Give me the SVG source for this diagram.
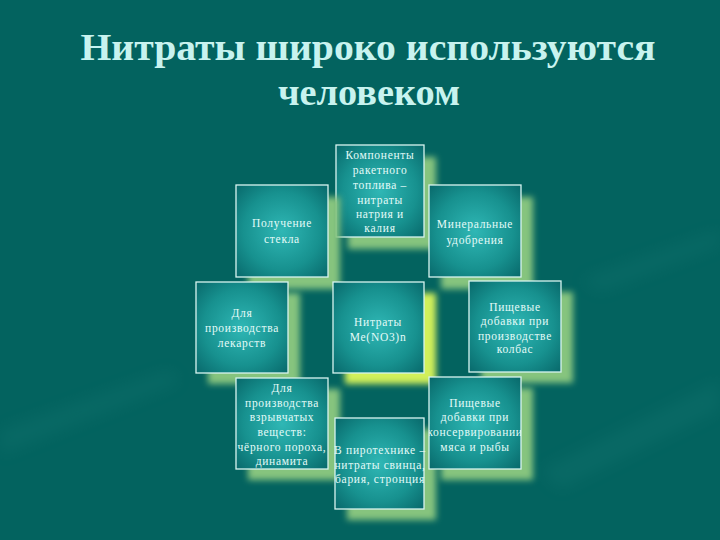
<svg xmlns="http://www.w3.org/2000/svg" width="720" height="540" viewBox="0 0 720 540">
<defs>
<style>
.title{font-family:"Liberation Serif","Times New Roman",serif;font-size:38px;font-weight:bold;fill:#c8f3ef;text-anchor:middle}
.lbl{font-family:"Liberation Serif","Times New Roman",serif;font-size:11.5px;fill:#e4fbf8;text-anchor:middle;letter-spacing:0.7px}
.box{fill:url(#boxg);stroke:#d8f4f0;stroke-width:1.3}
.sh{fill:#86c47e;filter:url(#blur)}
.shc{fill:#d2f05a;filter:url(#blur)}
</style>
<radialGradient id="boxg" cx="0.5" cy="0.5" r="0.7">
<stop offset="0" stop-color="#2fb7b5"/>
<stop offset="0.6" stop-color="#17918f"/>
<stop offset="1" stop-color="#08696b"/>
</radialGradient>
<filter id="blur" x="-20%" y="-20%" width="140%" height="140%"><feGaussianBlur stdDeviation="3"/></filter>
<filter id="bgblur" x="-20%" y="-20%" width="140%" height="140%"><feGaussianBlur stdDeviation="8"/></filter>
<clipPath id="clip9"><rect x="429" y="377" width="92" height="92"/></clipPath>
</defs>
<rect width="720" height="540" fill="#03635f"/>
<g opacity="0.15" filter="url(#bgblur)" fill="#2a8c86">
<path d="M540 470 L720 380 L720 410 L560 490 Z"/>
<path d="M580 280 L720 230 L720 245 L600 292 Z"/>
<path d="M0 430 L170 370 L180 382 L0 455 Z"/>
</g>
<g id="title">
<text class="title" x="368" y="60" textLength="575" lengthAdjust="spacingAndGlyphs">Нитраты широко используются</text>
<text class="title" x="369" y="105" textLength="182" lengthAdjust="spacingAndGlyphs">человеком</text>
</g>
<g id="connectors"></g>
<g id="n1">
<rect class="sh" x="348" y="157" width="88" height="92"/>
<rect class="box" x="336" y="145" width="88" height="92"/>
<text class="lbl"><tspan x="380" y="159">Компоненты</tspan><tspan x="380" y="174">ракетного</tspan><tspan x="380" y="189">топлива –</tspan><tspan x="380" y="204">нитраты</tspan><tspan x="380" y="218">натрия и</tspan><tspan x="380" y="232">калия</tspan></text>
</g>
<g id="n2">
<rect class="sh" x="248" y="197" width="92" height="92"/>
<rect class="box" x="236" y="185" width="92" height="92"/>
<text class="lbl"><tspan x="282" y="227">Получение</tspan><tspan x="282" y="243">стекла</tspan></text>
</g>
<g id="n3">
<rect class="sh" x="441" y="197" width="92" height="92"/>
<rect class="box" x="429" y="185" width="92" height="92"/>
<text class="lbl"><tspan x="475" y="228">Минеральные</tspan><tspan x="475" y="244">удобрения</tspan></text>
</g>
<g id="n4">
<rect class="sh" x="208" y="293" width="92" height="91"/>
<rect class="box" x="196" y="282" width="92" height="91"/>
<text class="lbl"><tspan x="242" y="317">Для</tspan><tspan x="242" y="332">производства</tspan><tspan x="242" y="347">лекарств</tspan></text>
</g>
<g id="n5">
<rect class="shc" x="345" y="293" width="91" height="91"/>
<rect class="box" x="333" y="282" width="91" height="91"/>
<text class="lbl"><tspan x="378" y="326">Нитраты</tspan><tspan x="378" y="341">Me(NO3)n</tspan></text>
</g>
<g id="n6">
<rect class="sh" x="481" y="292" width="92" height="91"/>
<rect class="box" x="469" y="281" width="92" height="91"/>
<text class="lbl"><tspan x="515" y="311">Пищевые</tspan><tspan x="515" y="325">добавки при</tspan><tspan x="515" y="340">производстве</tspan><tspan x="515" y="353">колбас</tspan></text>
</g>
<g id="n7">
<rect class="sh" x="248" y="389" width="92" height="91"/>
<rect class="box" x="236" y="378" width="92" height="91"/>
<text class="lbl"><tspan x="282" y="392">Для</tspan><tspan x="282" y="407">производства</tspan><tspan x="282" y="421">взрывчатых</tspan><tspan x="282" y="436">веществ:</tspan><tspan x="282" y="451">чёрного пороха,</tspan><tspan x="282" y="465">динамита</tspan></text>
</g>
<g id="n8">
<rect class="sh" x="347" y="429" width="89" height="91"/>
<rect class="box" x="335" y="418" width="89" height="91"/>
<text class="lbl"><tspan x="380" y="454">В пиротехнике –</tspan><tspan x="380" y="469">нитраты свинца,</tspan><tspan x="380" y="483">бария, стронция</tspan></text>
</g>
<g id="n9">
<rect class="sh" x="441" y="388" width="92" height="92"/>
<rect class="box" x="429" y="377" width="92" height="92"/>
<text class="lbl" clip-path="url(#clip9)"><tspan x="475" y="407">Пищевые</tspan><tspan x="475" y="421">добавки при</tspan><tspan x="475" y="436">консервировании</tspan><tspan x="475" y="451">мяса и рыбы</tspan></text>
</g>
</svg>
